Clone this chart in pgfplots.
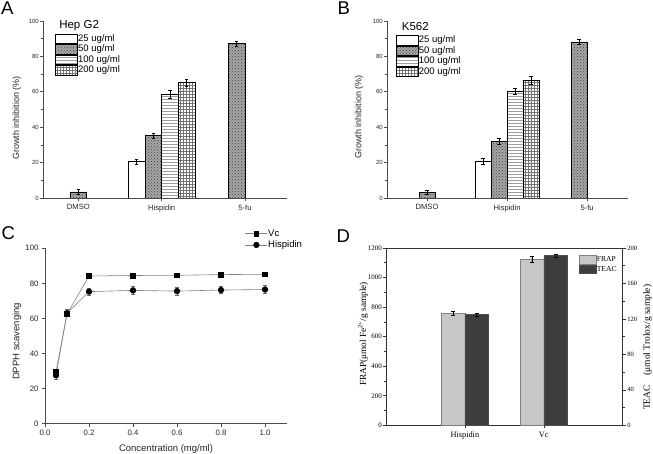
\documentclass[border=0pt]{standalone}
\usepackage{fontspec}
\setmainfont{Liberation Sans}
\newfontfamily\tnr{Liberation Serif}
\usepackage{pgfplots}
\pgfplotsset{compat=1.18}
\usetikzlibrary{patterns}
\definecolor{axgray}{RGB}{75,75,75}
\newcommand{\fs}[1]{\fontsize{#1}{#1}\selectfont}

\pgfplotsset{
  legA/.style={legend image code/.code={\draw[##1] (0pt,-4.6pt) rectangle (22pt,4.6pt);}},
  legC/.style={legend image code/.code={\draw[mark repeat=2,mark phase=2,##1] plot coordinates {(0pt,0pt) (11pt,0pt) (22pt,0pt)};}},
  legD/.style={legend image code/.code={\draw[##1] (0pt,-4.3pt) rectangle (17pt,4.3pt);}},
  mybar/.style={ybar, bar width=0.2, bar shift=0pt, draw=black, line width=0.5pt,
     error bars/y dir=both, error bars/y explicit,
     error bars/error bar style={black, line width=0.5pt},
     error bars/error mark options={rotate=90, mark size=1.8pt, black, line width=0.5pt},
     legA},
  s25/.style={mybar, fill=white},
  s50/.style={mybar, fill=black!35, postaction={pattern=crosshatch dots, pattern color=black!75}},
  s100/.style={mybar, fill=white, postaction={pattern=horizontal lines, pattern color=black!38}},
  s200/.style={mybar, fill=white, postaction={pattern=grid, pattern color=black!55}},
  panelAB/.style={
    scale only axis, height=177pt,
    ymin=0, ymax=100, ytick={0,20,...,100}, minor ytick={10,30,...,90},
    xtick={1,2,3}, xticklabels={DMSO,Hispidin,5-fu},
    axis x line*=bottom, axis y line*=left,
    axis line style={axgray, line width=0.6pt},
    tick style={axgray, line width=0.6pt},
    tick align=outside, major tick length=3pt, minor tick length=1.8pt,
    /pgf/number format/assume math mode=true,
    tick label style={text=black!85},
    yticklabel style={font=\fs{6}, inner sep=1pt},
    xticklabel style={font=\fs{7.6}},
    ylabel={Growth inhibition (\%)},
    ylabel style={font=\fs{9}, anchor=center, text=black!85},
    legend cell align=left,
    legend style={draw=none, fill=none, font=\fs{9.5}, inner sep=0pt, row sep=0.8pt, nodes={inner sep=0.5pt}},
  },
}

\begin{document}
\begin{tikzpicture}
\path[use as bounding box] (0pt,0pt) rectangle (653pt,-454pt);

% Panel letters
\node[anchor=north west, inner sep=0, font=\fs{18.5}] at (1pt,-1.7pt) {A};
\node[anchor=north west, inner sep=0, font=\fs{18.5}] at (337.5pt,-1.7pt) {B};
\node[anchor=north west, inner sep=0, font=\fs{18.5}] at (1.5pt,-226.7pt) {C};
\node[anchor=north west, inner sep=0, font=\fs{18.5}] at (336.5pt,-230pt) {D};

% ---------------- Panel A ----------------
\begin{axis}[panelAB, at={(43pt,-198pt)}, anchor=south west, width=244pt,
  xmin=0.576, xmax=3.504,
  ylabel style={at={(axis description cs:-0.107,0.452)}},
  legend style={at={(0.049,0.928)}, anchor=north west}]
\addplot[s25] coordinates {(1.7,20.5) +- (0,1.6)};
\addplot[s50] coordinates {(1,3.4) +- (0,1.4) (1.9,35.2) +- (0,1.5) (2.9,87.2) +- (0,1.5)};
\addplot[s100] coordinates {(2.1,58.4) +- (0,2.2)};
\addplot[s200] coordinates {(2.3,65.3) +- (0,2.0)};
\legend{25 ug/ml,50 ug/ml,100 ug/ml,200 ug/ml}
\node[anchor=base west, inner sep=0, font=\fs{11.5}] at (axis description cs:0.066,0.955) {Hep G2};
\end{axis}

% ---------------- Panel B ----------------
\begin{axis}[panelAB, at={(387pt,-198pt)}, anchor=south west, width=241pt,
  xmin=0.5, xmax=3.51,
  ylabel style={at={(axis description cs:-0.116,0.458)}},
  legend style={at={(0.036,0.92)}, anchor=north west}]
\addplot[s25] coordinates {(1.7,20.7) +- (0,1.5)};
\addplot[s50] coordinates {(1,3.2) +- (0,1.0) (1.9,32.1) +- (0,1.7) (2.9,88.2) +- (0,1.3)};
\addplot[s100] coordinates {(2.1,60.3) +- (0,1.7)};
\addplot[s200] coordinates {(2.3,66.5) +- (0,2.3)};
\legend{25 ug/ml,50 ug/ml,100 ug/ml,200 ug/ml}
\node[anchor=base west, inner sep=0, font=\fs{11.5}] at (axis description cs:0.061,0.945) {K562};
\end{axis}

% ---------------- Panel C ----------------
\begin{axis}[scale only axis, at={(45pt,-423.7pt)}, anchor=south west, width=242pt, height=175.4pt,
  xmin=0, xmax=1.1, ymin=0, ymax=100,
  xtick={0,0.2,0.4,0.6,0.8,1.0}, ytick={0,20,...,100},
  xticklabel style={/pgf/number format/.cd, fixed, fixed zerofill, precision=1},
  axis x line*=bottom, axis y line*=left,
  axis line style={axgray, line width=0.6pt},
  tick style={axgray, line width=0.6pt},
  tick align=outside, major tick length=3pt,
  /pgf/number format/assume math mode=true,
  tick label style={font=\fs{7.8}, text=black!85},
  xlabel={Concentration (mg/ml)}, ylabel={DPPH scavenging},
  label style={font=\fs{9.5}, text=black!85},
  xlabel style={at={(axis description cs:0.5,-0.144)}, anchor=center},
  ylabel style={at={(axis description cs:-0.116,0.469)}, anchor=center},
  legend cell align=left,
  legend style={at={(0.826,1.11)}, anchor=north west, draw=none, fill=none, font=\fs{9.5}, inner sep=0pt, row sep=2pt, nodes={inner sep=0.5pt}},
  clip=false]
\addplot[color=black!50, line width=0.6pt, mark=square*, mark size=2.4pt, mark options={black, fill=black, solid},
  error bars/y dir=both, error bars/y explicit,
  error bars/error bar style={black!60, line width=0.5pt},
  error bars/error mark options={rotate=90, mark size=2pt, black!60, line width=0.5pt}, legC]
  coordinates {(0.05,29.6) +- (0,1.5) (0.1,62.5) +- (0,1.5) (0.2,84.2) +- (0,0.8) (0.4,84.5) +- (0,0.8) (0.6,84.6) +- (0,0.8) (0.8,85.0) +- (0,0.8) (1.0,85.2) +- (0,0.8)};
\addplot[color=black!50, line width=0.6pt, mark=*, mark size=2.8pt, mark options={black, fill=black, solid},
  error bars/y dir=both, error bars/y explicit,
  error bars/error bar style={black!60, line width=0.5pt},
  error bars/error mark options={rotate=90, mark size=2pt, black!60, line width=0.5pt}, legC]
  coordinates {(0.05,27.6) +- (0,2.0) (0.1,63.0) +- (0,2.0) (0.2,75.3) +- (0,2.2) (0.4,76.0) +- (0,2.2) (0.6,75.6) +- (0,2.2) (0.8,76.2) +- (0,2.0) (1.0,76.5) +- (0,2.2)};
\legend{Vc,Hispidin}
\end{axis}

% ---------------- Panel D ----------------
\begin{axis}[scale only axis, at={(386pt,-425.3pt)}, anchor=south west, width=236.7pt, height=177.3pt,
  xmin=0, xmax=3, ymin=0, ymax=1200,
  ytick={0,200,...,1200}, minor ytick={100,300,...,1100},
  xtick={1,2}, xticklabels={Hispidin,Vc},
  xtick pos=left, ytick pos=left,
  axis line style={black!80, line width=0.6pt},
  tick style={black!80, line width=0.6pt},
  tick align=outside, major tick length=3pt, minor tick length=1.8pt,
  /pgf/number format/assume math mode=true, /pgf/number format/1000 sep={},
  yticklabel style={font=\tnr\fs{7}, inner sep=1pt},
  xticklabel style={font=\tnr\fs{8.3}},
  ylabel={FRAP(μmol Fe\textsuperscript{2+}/g sample)},
  ylabel style={font=\tnr\fs{9.3}, at={(axis description cs:-0.097,0.515)}, anchor=center}]
\addplot[ybar, bar width=0.3, bar shift=0pt, fill=black!22, draw=black!50, line width=0.6pt,
  error bars/y dir=both, error bars/y explicit,
  error bars/error bar style={black, line width=0.6pt},
  error bars/error mark options={rotate=90, mark size=2pt, black, line width=0.6pt}]
  coordinates {(0.85,757) +- (0,12) (1.85,1125) +- (0,20)};
\end{axis}
\begin{axis}[scale only axis, at={(386pt,-425.3pt)}, anchor=south west, width=236.7pt, height=177.3pt,
  xmin=0, xmax=3, ymin=0, ymax=200,
  axis x line=none, axis y line*=right,
  ytick={0,40,...,200}, minor ytick={20,60,...,180},
  axis line style={black!80, line width=0.6pt},
  tick style={black!80, line width=0.6pt},
  tick align=outside, major tick length=3pt, minor tick length=1.8pt,
  /pgf/number format/assume math mode=true,
  yticklabel style={font=\tnr\fs{6.5}, inner sep=1.5pt},
  ylabel={TEAC\quad(μmol Trolox/g sample)},
  ylabel style={font=\tnr\fs{9.5}, at={(axis description cs:1.105,0.44)}, anchor=center},
  legend cell align=left,
  legend style={at={(0.814,0.959)}, anchor=north west, draw=none, fill=none, font=\tnr\fs{7.6}, inner sep=0pt, row sep=0pt, nodes={inner sep=0.3pt}}]
\addlegendimage{ybar, fill=black!22, draw=black!50, line width=0.6pt, legD}
\addplot[ybar, bar width=0.3, bar shift=0pt, fill=black!76, draw=black!70, line width=0.6pt,
  error bars/y dir=both, error bars/y explicit,
  error bars/error bar style={black, line width=0.6pt},
  error bars/error mark options={rotate=90, mark size=2pt, black, line width=0.6pt}, legD]
  coordinates {(1.15,124.8) +- (0,2) (2.15,191.3) +- (0,1.5)};
\legend{FRAP,TEAC}
\end{axis}
\end{tikzpicture}
\end{document}
